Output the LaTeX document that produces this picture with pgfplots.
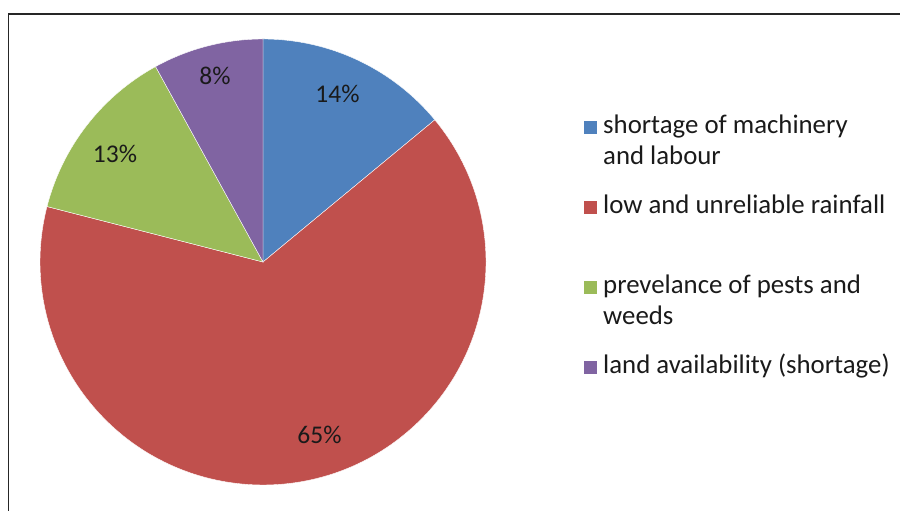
\documentclass[border=0pt]{standalone}
\usepackage{pgfplots}
\pgfplotsset{compat=1.18}
\usepackage{fontspec}
\setmainfont{Carlito}
\definecolor{cBlue}{HTML}{4F81BD}
\definecolor{cRed}{HTML}{C0504D}
\definecolor{cGreen}{HTML}{9BBB59}
\definecolor{cPurple}{HTML}{8064A2}
\definecolor{cText}{HTML}{1A1A1A}
\tikzset{lbl/.style={inner sep=0pt,text=cText,font=\fontsize{25.5bp}{31bp}\selectfont},
  leg/.style={inner sep=0pt,text=cText,anchor=base west,font=\fontsize{26.8bp}{32bp}\selectfont}}
\begin{document}
\begin{tikzpicture}
% shares in percent: 14, 65, 13, 8 (clockwise from the top)
\pgfmathsetmacro\aA{90}
\pgfmathsetmacro\aB{\aA-3.6*14}
\pgfmathsetmacro\aC{\aB-3.6*65}
\pgfmathsetmacro\aD{\aC-3.6*13}
\pgfmathsetmacro\aE{\aD-3.6*8}
\begin{axis}[x=1bp,y=1bp,xmin=0,xmax=900,ymin=0,ymax=511,
  hide axis,clip=false]
\addplot[draw=none,forget plot] coordinates {(0,0) (900,511)};
\coordinate (ll) at (axis cs:0,0);
\coordinate (ur) at (axis cs:900,511);
% frame
\draw[line width=1.6bp,black!85] (8.5,-20) -- (8.5,497) -- (920,497);
% wedges
\fill[cBlue,draw=white,line width=0.4bp] (263,249) -- ++(\aA:223bp) arc[start angle=\aA,end angle=\aB,radius=223bp] -- cycle;
\fill[cRed,draw=white,line width=0.4bp] (263,249) -- ++(\aB:223bp) arc[start angle=\aB,end angle=\aC,radius=223bp] -- cycle;
\fill[cGreen,draw=white,line width=0.4bp] (263,249) -- ++(\aC:223bp) arc[start angle=\aC,end angle=\aD,radius=223bp] -- cycle;
\fill[cPurple,draw=white,line width=0.4bp] (263,249) -- ++(\aD:223bp) arc[start angle=\aD,end angle=\aE,radius=223bp] -- cycle;
% data labels
\node[lbl] at (337.5,417.5) {14\%};
\node[lbl] at (319.5,76) {65\%};
\node[lbl] at (115,357.5) {13\%};
\node[lbl] at (215,435) {8\%};
% legend
\fill[cBlue] (584,377) rectangle (597,390);
\node[leg] at (603,377) {shortage of machinery};
\node[leg] at (603,346) {and labour};
\fill[cRed] (584,297) rectangle (597,310);
\node[leg] at (603,297) {low and unreliable rainfall};
\fill[cGreen] (584,217) rectangle (597,230);
\node[leg] at (603,217) {prevelance of pests and};
\node[leg] at (603,186) {weeds};
\fill[cPurple] (584,137) rectangle (597,150);
\node[leg] at (603,137) {land availability (shortage)};
\end{axis}
\pgfresetboundingbox
\useasboundingbox (ll) rectangle (ur);
\end{tikzpicture}
\end{document}
